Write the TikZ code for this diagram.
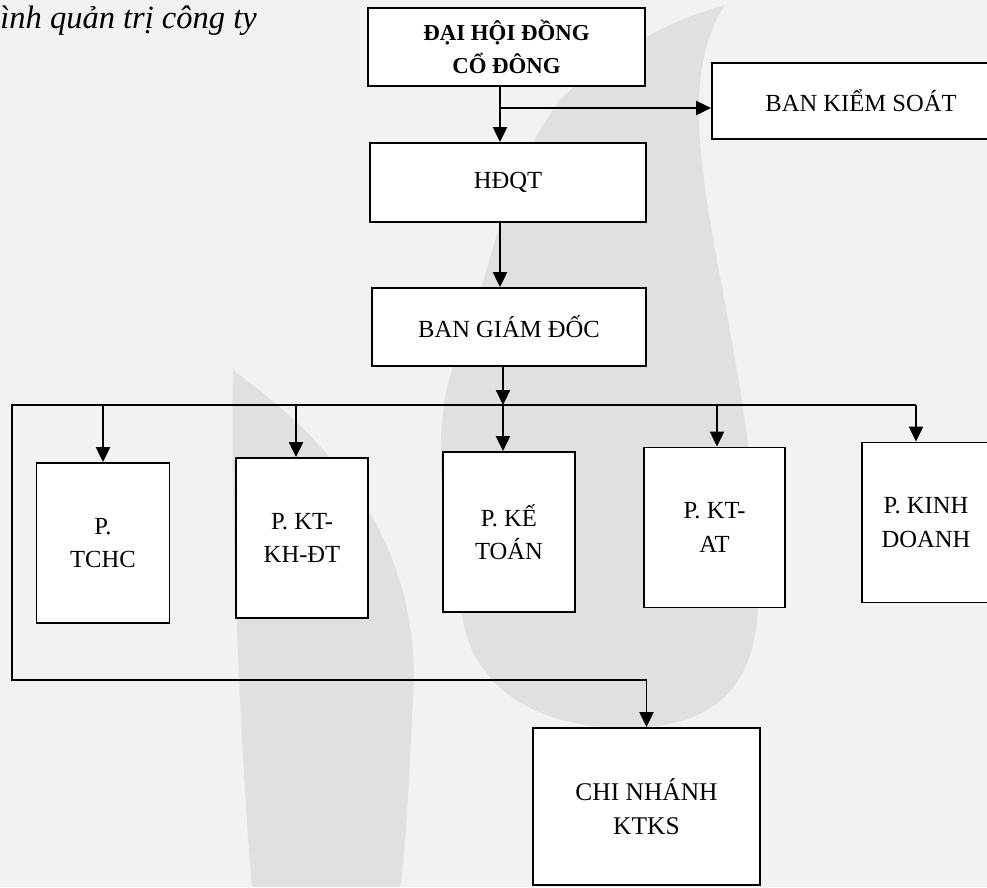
\documentclass[tikz,border=0pt]{standalone}
\usepackage{fontspec}
\setmainfont{Liberation Serif}
\usetikzlibrary{arrows.meta}

\begin{document}
\begin{tikzpicture}[x=0.02cm, y=-0.02cm,
    box/.style={draw, line width=1.1pt, fill=white, align=center, font=\fontsize{14}{19}\selectfont},
    dept/.style={box, minimum width=2.66cm, minimum height=3.2cm},
    arr/.style={line width=1pt, -{Triangle[width=8pt,length=8.5pt]}},
    leaf/.style={fill=gray!24, draw=none}]
    \useasboundingbox (0,0) rectangle (987,887);
    % background and leaves
    \fill[gray!10] (0,0) rectangle (987,887);
    \fill[leaf] (233,370) .. controls (300,420) and (425,520) .. (413,700) .. controls (408,800) and (405,860) .. (400,887) -- (252,887) .. controls (240,750) and (230,500) .. cycle;
    \fill[leaf] (725,5) .. controls (650,120) and (760,330) .. (758,600) .. controls (757,700) and (700,728) .. (625,728) .. controls (540,728) and (480,690) .. (465,630) .. controls (445,540) and (425,420) .. (460,350) .. controls (490,280) and (500,180) .. (560,100) .. controls (620,40) and (690,15) .. cycle;

    \node[anchor=base west, inner sep=0pt, font=\itshape\fontsize{18.5}{22}\selectfont] (title) at (0,28) {ình quản trị công ty};

    \node (dhdcd) [box, minimum width=5.54cm, minimum height=1.56cm, font=\bfseries\fontsize{13}{19}\selectfont] at (506.5,47) {ĐẠI HỘI ĐỒNG\\CỔ ĐÔNG};
    \node (bks) [box, minimum width=5.96cm, minimum height=1.52cm] at (861,101) {BAN KIỂM SOÁT};
    \node (hdqt) [box, minimum width=5.52cm, minimum height=1.58cm] at (508,182.5) {HĐQT};
    \node (bgd) [box, minimum width=5.48cm, minimum height=1.56cm] at (509,327) {BAN GIÁM ĐỐC};

    \node (tchc) [dept] at (103,543) {P.\\TCHC};
    \node (khdt) [dept, minimum width=2.64cm] at (302,538) {P. KT-\\KH-ĐT};
    \node (ketoan) [dept, minimum width=2.64cm] at (509,532) {P. KẾ\\TOÁN};
    \node (ktat) [dept, minimum width=2.82cm] at (714.5,527.5) {P. KT-\\AT};
    \node (kd) [dept, minimum width=2.56cm] at (926,522.5) {P. KINH\\DOANH};

    \node (cn) [box, minimum width=4.54cm, minimum height=3.14cm, font=\fontsize{14.5}{19}\selectfont] at (646.5,806.5) {CHI NHÁNH\\KTKS};

    \coordinate (split) at (500,108);
    \coordinate (mid) at (503,405);
    \coordinate (barL) at (12,405);
    \coordinate (barR) at (916,405);
    \coordinate (loopL) at (12,680);

    \draw[arr] (dhdcd.south -| split) -- (hdqt.north -| split);
    \draw[arr] (split) -- (split -| bks.west);
    \draw[arr] (hdqt.south -| split) -- (bgd.north -| split);
    \draw[line width=1pt] (barR) -- (barL) -- (loopL) -- (loopL -| cn.north);
    \draw[arr] (loopL -| cn.north) -- (cn.north);
    \draw[arr] (bgd.south -| mid) -- (mid);
    \draw[arr] (mid) -- (ketoan.north -| mid);
    \draw[arr] (tchc.north |- barL) -- (tchc.north);
    \draw[arr] ([xshift=-0.12cm]khdt.north |- barL) -- ([xshift=-0.12cm]khdt.north);
    \draw[arr] ([xshift=0.05cm]ktat.north |- barL) -- ([xshift=0.05cm]ktat.north);
    \draw[arr] (barR) -- (barR |- kd.north);
\end{tikzpicture}
\end{document}
